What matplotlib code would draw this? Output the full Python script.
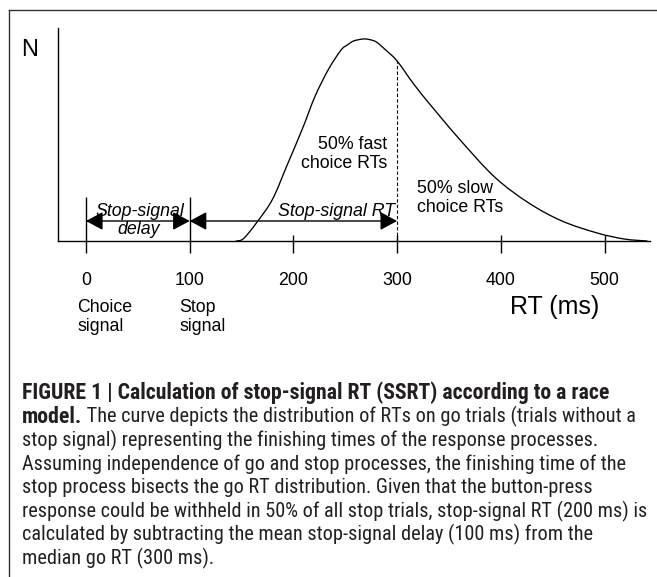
import os
import matplotlib
matplotlib.use('Agg')
import matplotlib.pyplot as plt
from matplotlib import font_manager
from matplotlib.font_manager import FontProperties
from matplotlib.lines import Line2D
from matplotlib.patches import ArrowStyle, PathPatch
from matplotlib.path import Path

# ---------------- data ----------------
rt_ms = [145, 152, 165, 180, 194, 209, 221, 234, 246, 252, 258, 267, 273,
         280, 289, 300, 316, 333, 360, 394, 427, 459, 493, 519, 541]
n_count = [0, 2.5, 19, 42, 76, 113, 145, 172, 191, 196, 200, 202, 201.5,
           199, 191, 180, 157, 135, 102, 64, 38, 20, 8, 2, 0]
tick_values = [0, 100, 200, 300, 400, 500]
tick_labels = ['0', '100', '200', '300', '400', '500']
signal_ticks = [0, 100]          # choice signal, stop signal
ssd_span = [0, 100]              # stop-signal delay
ssrt_span = [100, 300]           # stop-signal RT
median_rt = 300
median_height = 180

caption_lines = [
    "The curve depicts the distribution of RTs on go trials (trials without a",
    "stop signal) representing the finishing times of the response processes.",
    "Assuming independence of go and stop processes, the finishing time of the",
    "stop process bisects the go RT distribution. Given that the button-press",
    "response could be withheld in 50% of all stop trials, stop-signal RT (200 ms) is",
    "calculated by subtracting the mean stop-signal delay (100 ms) from the",
    "median go RT (300 ms).",
]
caption_title = "FIGURE 1 | Calculation of stop-signal RT (SSRT) according to a race"
caption_bold2 = "model."

# ---------------- fonts ----------------
names = {f.name for f in font_manager.fontManager.ttflist}
chart_font = 'Liberation Sans' if 'Liberation Sans' in names else 'DejaVu Sans'
plt.rcParams['font.family'] = [chart_font, 'DejaVu Sans']

files = {}
for f in font_manager.fontManager.ttflist:
    files.setdefault(os.path.basename(f.fname), f.fname)
prefs = [
    ('LiberationSansNarrow-Regular.ttf', 'LiberationSansNarrow-Bold.ttf'),
    ('NotoSans-Condensed.ttf', 'NotoSans-CondensedBold.ttf'),
    ('NotoSans-SemiCondensed.ttf', 'NotoSans-SemiCondensedBold.ttf'),
    ('RobotoCondensed-Regular.ttf', 'RobotoCondensed-Bold.ttf'),
    ('OpenSans_Condensed-Regular.ttf', 'OpenSans_Condensed-Bold.ttf'),
    ('OpenSans-CondRegular.ttf', 'OpenSans-CondBold.ttf'),
]
cap_reg = cap_bold = None
for r, b in prefs:
    if r in files and b in files:
        cap_reg = FontProperties(fname=files[r])
        cap_bold = FontProperties(fname=files[b])
        break
if cap_reg is None:
    fam = 'Roboto' if 'Roboto' in names else chart_font
    cap_reg = FontProperties(family=fam)
    cap_bold = FontProperties(family=fam, weight='bold')

# ---------------- figure ----------------
W, H = 657, 577
fig = plt.figure(figsize=(W / 100, H / 100), dpi=100)
fig.patch.set_facecolor('white')

# border (top and left)
fig.add_artist(Line2D([9 / W, 1], [1 - 10 / H, 1 - 10 / H], transform=fig.transFigure,
                      color='#333333', lw=1.0))
fig.add_artist(Line2D([9 / W, 9 / W], [0, 1 - 10 / H], transform=fig.transFigure,
                      color='#333333', lw=1.0))

# axes: px_x = 86 + 1.037*RT ; N = 241 - px_y
SX, OX = 1.037, 86.0
def rx(px):
    return (px - OX) / SX
def ny(py):
    return 241 - py

ax = fig.add_axes([58 / W, 1 - 241 / H, (650 - 58) / W, (241 - 28) / H])
ax.set_xlim(rx(58), rx(650))
ax.set_ylim(0, 213)
for s in ['top', 'right']:
    ax.spines[s].set_visible(False)
for s in ['left', 'bottom']:
    ax.spines[s].set_linewidth(1.0)
    ax.spines[s].set_color('black')
ax.set_xticks([])
ax.set_yticks([])
ax.patch.set_alpha(0)

FS = 12.8
# tick marks
for t in tick_values:
    top = 44 if t in signal_ticks else 6
    ax.vlines(t, -12, top, color='black', lw=1.0, clip_on=False)
for t, lab in zip(tick_values, tick_labels):
    ax.text(t, ny(285), lab, ha='center', va='baseline', fontsize=FS)

# curve (smooth path through the read points)
pts = list(zip(rt_ms, n_count))
verts = [pts[0]]
codes = [Path.MOVETO]
for i in range(len(pts) - 1):
    p0 = pts[i - 1] if i > 0 else pts[i]
    p1 = pts[i]
    p2 = pts[i + 1]
    p3 = pts[i + 2] if i + 2 < len(pts) else pts[i + 1]
    c1 = (p1[0] + (p2[0] - p0[0]) / 6, p1[1] + (p2[1] - p0[1]) / 6)
    c2 = (p2[0] - (p3[0] - p1[0]) / 6, p2[1] - (p3[1] - p1[1]) / 6)
    verts += [c1, c2, p2]
    codes += [Path.CURVE4] * 3
ax.add_patch(PathPatch(Path(verts, codes), fill=False, lw=0.95, ec='black',
                       clip_on=False, joinstyle='round', capstyle='round'))

# median dashed line
ax.vlines(median_rt, 0, median_height, color='black', lw=0.8,
          linestyles=(0, (3, 2)))

# arrows
astyle = ArrowStyle('<|-|>', head_length=0.65, head_width=0.35)
for span in (ssd_span, ssrt_span):
    ax.annotate('', xy=(span[1], 20), xytext=(span[0], 20),
                arrowprops=dict(arrowstyle=astyle, mutation_scale=16, lw=1.0,
                                color='black', shrinkA=0, shrinkB=0))

# chart labels
ax.text(rx(140), ny(216), 'Stop-signal', style='italic', ha='center', va='baseline', fontsize=FS)
ax.text(rx(139), ny(234), 'delay', style='italic', ha='center', va='baseline', fontsize=FS)
ax.text(rx(337), ny(216), 'Stop-signal RT', style='italic', ha='center', va='baseline', fontsize=FS)
ax.text(rx(387), ny(149), '50% fast', ha='right', va='baseline', fontsize=FS)
ax.text(rx(387), ny(168), 'choice RTs', ha='right', va='baseline', fontsize=FS)
ax.text(rx(417), ny(193), '50% slow', ha='left', va='baseline', fontsize=FS)
ax.text(rx(417), ny(212), 'choice RTs', ha='left', va='baseline', fontsize=FS)
ax.text(rx(77), ny(312), 'Choice', ha='left', va='baseline', fontsize=FS, clip_on=False)
ax.text(rx(77), ny(331), 'signal', ha='left', va='baseline', fontsize=FS, clip_on=False)
ax.text(rx(179), ny(312), 'Stop', ha='left', va='baseline', fontsize=FS, clip_on=False)
ax.text(rx(179), ny(331), 'signal', ha='left', va='baseline', fontsize=FS, clip_on=False)
ax.text(rx(555), ny(314), 'RT (ms)', ha='center', va='baseline', fontsize=18, clip_on=False)
fig.text(21 / W, 1 - 56 / H, 'N', ha='left', va='baseline', fontsize=17)

# ---------------- caption ----------------
cap_color = '#231f20'
x0 = 22
base0 = 399
step = 23.6
target_w = 623.0
title_w = 586.0

renderer = fig.canvas.get_renderer()
probe = fig.text(0, 0, caption_lines[4], fontproperties=cap_reg, fontsize=12)
wpx = probe.get_window_extent(renderer).width
probe.remove()
cap_fs = 12 * target_w / wpx

probe = fig.text(0, 0, caption_title, fontproperties=cap_bold, fontsize=cap_fs)
tw = probe.get_window_extent(renderer).width
probe.remove()
bold_fs = min(cap_fs * title_w / tw, cap_fs * 1.08)

fig.text(x0 / W, 1 - base0 / H, caption_title, fontproperties=cap_bold, fontsize=bold_fs,
         color=cap_color, va='baseline')
b = fig.text(x0 / W, 1 - (base0 + step) / H, caption_bold2, fontproperties=cap_bold,
             fontsize=bold_fs, color=cap_color, va='baseline')
bw = b.get_window_extent(renderer).width
fig.text((x0 + bw) / W, 1 - (base0 + step) / H, ' ' + caption_lines[0],
         fontproperties=cap_reg, fontsize=cap_fs, color=cap_color, va='baseline')
for i, line in enumerate(caption_lines[1:], start=2):
    fig.text(x0 / W, 1 - (base0 + step * i) / H, line, fontproperties=cap_reg,
             fontsize=cap_fs, color=cap_color, va='baseline')

fig.savefig('out.png', dpi=100)
